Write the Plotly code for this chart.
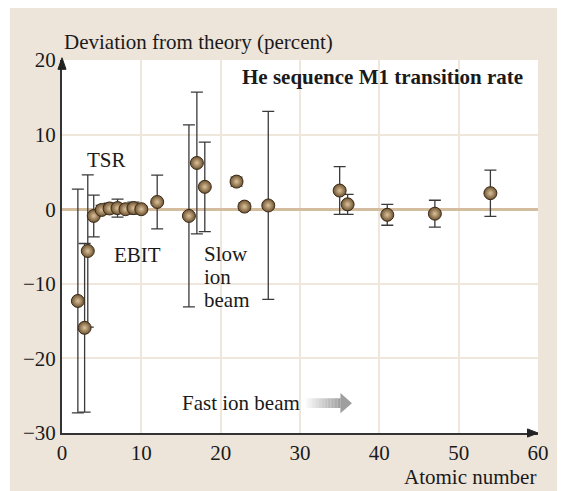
import plotly.graph_objects as go

# Data
atomic_number = [2, 2.85, 3.25, 4, 5, 6, 7, 8, 9, 10, 12, 16, 17, 18, 22, 23, 26, 35, 36, 41, 47, 54]
deviation = [-12.3, -15.9, -5.6, -0.9, -0.1, 0.1, 0.15, 0.0, 0.15, 0.0, 0.97,
             -0.9, 6.2, 3.0, 3.7, 0.35, 0.5, 2.5, 0.65, -0.75, -0.6, 2.15]
error = [15.0, 11.3, 10.2, 2.8, 0.6, 0.7, 1.2, 0.5, 0.8, 0.4, 3.6,
         12.2, 9.5, 6.0, 0.6, 0.5, 12.6, 3.2, 1.35, 1.4, 1.8, 3.1]
x_ticks = [0, 10, 20, 30, 40, 50, 60]
y_ticks = [-30, -20, -10, 0, 10, 20]

FONT = "Liberation Serif, Times New Roman, serif"
TXT = "#1a1a1a"
BEIGE = "#EEE5DA"
FS = 21

fig = go.Figure()
fig.add_trace(go.Scatter(
    x=atomic_number, y=deviation, mode="markers",
    error_y=dict(type="data", array=error, visible=True, color="#3a3a3a",
                 thickness=1.3, width=6),
    marker=dict(size=13, color="#6E5230",
                gradient=dict(type="radial", color="#DCC39C"),
                line=dict(color="#3A2A18", width=1)),
    showlegend=False, cliponaxis=False,
))

shapes = [
    dict(type="rect", xref="paper", yref="paper", x0=-0.1095, x1=1.04, y0=-0.2, y1=1.1394,
         fillcolor=BEIGE, line=dict(width=0), layer="below"),
    dict(type="rect", xref="paper", yref="paper", x0=0, x1=1, y0=0, y1=1,
         fillcolor="white", line=dict(width=0), layer="below"),
    # axis arrows
    dict(type="path", xref="paper", yref="paper",
         path="M -0.0085 0.975 L 0 1.006 L 0.0085 0.975 Z",
         fillcolor="#222", line=dict(color="#222", width=1)),
    dict(type="path", xref="paper", yref="paper",
         path="M 0.978 -0.011 L 1.0 0 L 0.978 0.011 Z",
         fillcolor="#222", line=dict(color="#222", width=1)),
]
# gradient arrow for "Fast ion beam"
n = 24
x_start, x_end, x_tip = 30.7, 35.1, 36.55
for i in range(n):
    a = x_start + (x_end - x_start) * i / n
    b = x_start + (x_end - x_start) * (i + 1) / n
    t = i / (n - 1)
    c = int(250 - (250 - 160) * t)
    shapes.append(dict(type="rect", xref="x", yref="y", x0=a, x1=b + 0.02, y0=-26.65, y1=-25.35,
                       fillcolor=f"rgb({c},{c},{c})", line=dict(width=0)))
shapes.append(dict(type="path", xref="x", yref="y",
                   path=f"M {x_end} -27.35 L {x_tip} -26.0 L {x_end} -24.65 Z",
                   fillcolor="rgb(158,158,158)", line=dict(width=0)))

annotations = [
    dict(text="Deviation from theory (percent)", xref="paper", yref="paper", x=0, y=1.01,
         xanchor="left", yanchor="bottom", showarrow=False, font=dict(size=FS)),
    dict(text="<b>He sequence M1 transition rate</b>", x=40.4, y=17.7, showarrow=False,
         font=dict(size=FS)),
    dict(text="Atomic number", xref="paper", yref="paper", x=1.0, y=-0.118,
         xanchor="right", yanchor="middle", showarrow=False, font=dict(size=FS)),
    dict(text="TSR", x=5.6, y=6.6, showarrow=False, font=dict(size=FS)),
    dict(text="EBIT", x=9.5, y=-6.1, showarrow=False, font=dict(size=FS)),
    dict(text="Slow", x=17.6, y=-6.0, xanchor="left", showarrow=False, font=dict(size=FS)),
    dict(text="ion", x=17.6, y=-9.1, xanchor="left", showarrow=False, font=dict(size=FS)),
    dict(text="beam", x=17.6, y=-12.2, xanchor="left", showarrow=False, font=dict(size=FS)),
    dict(text="Fast ion beam", x=22.5, y=-26.0, showarrow=False, font=dict(size=FS)),
]

fig.update_layout(
    width=561, height=491,
    margin=dict(l=62, r=15, t=60, b=58),
    paper_bgcolor="white", plot_bgcolor="white",
    font=dict(family=FONT, size=FS, color=TXT),
    shapes=shapes, annotations=annotations,
    xaxis=dict(range=[0, 60], tickvals=x_ticks, showgrid=True, gridcolor="#F0E7DC",
               gridwidth=1.5, zeroline=False, showline=True, linecolor="#333",
               linewidth=2, ticks="", tickfont=dict(size=FS), fixedrange=True),
    yaxis=dict(range=[-30, 20], tickvals=y_ticks, showgrid=True, gridcolor="#F0E7DC",
               gridwidth=1.5, zeroline=True, zerolinecolor="#D4BC9E", zerolinewidth=2.5,
               showline=True, linecolor="#333", linewidth=2, ticks="",
               tickfont=dict(size=FS), fixedrange=True),
)

fig.write_html("out.html")
